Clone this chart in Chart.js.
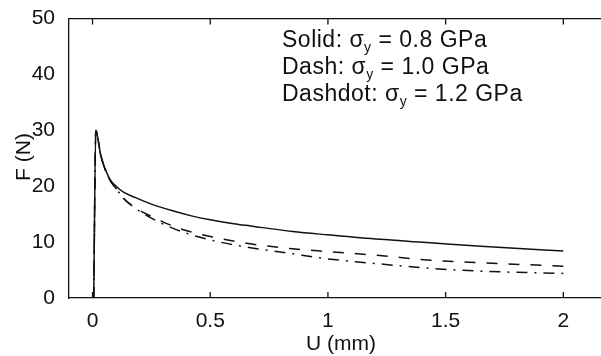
<!DOCTYPE html>
<html>
<head>
<meta charset="utf-8">
<script src="https://cdn.jsdelivr.net/npm/chart.js@4/dist/chart.umd.min.js"></script>
<style>
  body { margin: 0; background: #fff; }
  canvas { display: block; }
</style>
</head>
<body>
<canvas id="forceChart" width="601" height="356"></canvas>
<script>
// ===== Data =====
const uValues  = [0.005, 0.014, 0.035, 0.07, 0.1, 0.13, 0.18, 0.25, 0.34, 0.42, 0.5, 0.6, 0.67, 0.85, 1.0, 1.22, 1.42, 1.65, 2.0];
const solidF   = [0, 30.0, 25.5, 21.5, 20.0, 19.0, 18.0, 16.8, 15.6, 14.7, 14.0, 13.3, 12.9, 11.9, 11.3, 10.5, 9.95, 9.25, 8.4];
const dashF    = [0, 30.0, 25.5, 21.4, 19.6, 17.9, 16.2, 14.6, 12.9, 11.8, 11.0, 10.2, 9.7, 8.8, 8.3, 7.6, 6.8, 6.3, 5.7];
const dashdotF = [0, 30.0, 25.5, 21.4, 19.6, 17.9, 16.1, 14.3, 12.5, 11.3, 10.4, 9.5, 9.0, 7.9, 7.0, 6.1, 5.35, 4.8, 4.4];

const xTicks = [0, 0.5, 1, 1.5, 2];
const yTicks = [0, 10, 20, 30, 40, 50];

const noteNames  = ["Solid", "Dash", "Dashdot"];
const noteValues = ["0.8", "1.0", "1.2"];

const ink = "#111";
const fontFamily = "'Liberation Sans', Arial, Helvetica, sans-serif";

function toPoints(ys) {
  return uValues.map((u, i) => ({ x: u, y: ys[i] }));
}

// ===== Extra drawing: box top, inward ticks, titles, note =====
const decorPlugin = {
  id: "decor",
  afterDraw(chart) {
    const { ctx, chartArea, scales } = chart;
    const x = scales.x;
    ctx.save();
    ctx.strokeStyle = ink;
    ctx.lineWidth = 1.3;

    // top edge of the box
    ctx.beginPath();
    ctx.moveTo(chartArea.left, chartArea.top);
    ctx.lineTo(chartArea.right, chartArea.top);
    ctx.stroke();

    // inward tick marks on bottom and top
    xTicks.forEach(v => {
      const px = x.getPixelForValue(v);
      ctx.beginPath();
      ctx.moveTo(px, chartArea.bottom);
      ctx.lineTo(px, chartArea.bottom - 6);
      ctx.moveTo(px, chartArea.top);
      ctx.lineTo(px, chartArea.top + 6);
      ctx.stroke();
    });

    ctx.fillStyle = ink;
    ctx.font = "21px " + fontFamily;
    ctx.textBaseline = "middle";

    // x axis title
    ctx.textAlign = "center";
    ctx.fillText("U (mm)", 341, 344);

    // y axis title
    ctx.save();
    ctx.translate(24, 157);
    ctx.rotate(-Math.PI / 2);
    ctx.fillText("F (N)", 0, 0);
    ctx.restore();

    // note text with subscript
    ctx.textAlign = "left";
    ctx.letterSpacing = "0.5px";
    noteNames.forEach((name, i) => {
      const y = 41 + i * 27;
      let px = 282;
      const head = name + ": \u03c3";
      ctx.font = "23px " + fontFamily;
      ctx.fillText(head, px, y);
      px += ctx.measureText(head).width;
      ctx.font = "14px " + fontFamily;
      ctx.fillText("y", px, y + 7);
      px += ctx.measureText("y").width;
      ctx.font = "23px " + fontFamily;
      ctx.fillText(" = " + noteValues[i] + " GPa", px, y);
    });
    ctx.restore();
  }
};

// ===== Chart =====
const ctx = document.getElementById("forceChart").getContext("2d");
new Chart(ctx, {
  type: "line",
  data: {
    datasets: [
      {
        label: "Solid",
        data: toPoints(solidF),
        borderColor: ink,
        borderWidth: 1.5,
        pointRadius: 0,
        cubicInterpolationMode: "monotone"
      },
      {
        label: "Dash",
        data: toPoints(dashF),
        borderColor: ink,
        borderWidth: 1.5,
        borderDash: [11, 11],
        pointRadius: 0,
        cubicInterpolationMode: "monotone"
      },
      {
        label: "Dashdot",
        data: toPoints(dashdotF),
        borderColor: ink,
        borderWidth: 1.5,
        borderDash: [11, 7, 2, 7],
        pointRadius: 0,
        cubicInterpolationMode: "monotone"
      }
    ]
  },
  options: {
    responsive: false,
    animation: false,
    layout: { padding: { top: 15, right: 0, left: 0, bottom: 0 } },
    plugins: {
      legend: { display: false },
      tooltip: { enabled: false }
    },
    scales: {
      x: {
        type: "linear",
        min: -0.1,
        max: 2.16,
        grid: { display: false },
        border: { display: true, color: ink, width: 1.3 },
        ticks: {
          color: ink,
          font: { family: fontFamily, size: 21 },
          padding: 3,
          callback: v => String(v)
        },
        afterBuildTicks: s => { s.ticks = xTicks.map(v => ({ value: v })); },
        afterFit: s => { s.height = 58; }
      },
      y: {
        type: "linear",
        min: 0,
        max: 50,
        grid: { display: false },
        border: { display: true, color: ink, width: 1.3 },
        ticks: {
          color: ink,
          font: { family: fontFamily, size: 21 },
          padding: 6
        },
        afterBuildTicks: s => { s.ticks = yTicks.map(v => ({ value: v })); },
        afterFit: s => { s.width = 69; }
      }
    }
  },
  plugins: [decorPlugin]
});
</script>
</body>
</html>
